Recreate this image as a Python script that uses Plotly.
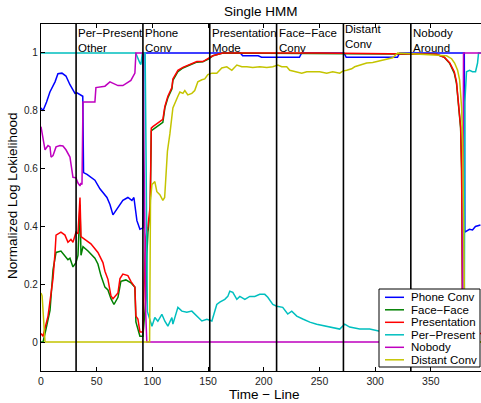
import plotly.graph_objects as go

# ---------------- data ----------------
names = ["Phone Conv", "Face\u2212Face", "Presentation", "Per\u2212Present", "Nobody", "Distant Conv"]
colors = ["#0000ff", "#008000", "#ff0000", "#00bfbf", "#bf00bf", "#c4c400"]

phone_t = [0, 1.8, 5, 8, 12.6, 15.2, 18.8, 22.4, 26, 28.7, 30.5, 32.3, 35, 37.5, 38.2, 41.3, 48.4, 52.9, 59.2, 61.9,
           64.6, 68.2, 73.5, 78, 81.6, 83.4, 86.1, 88.8, 91.5, 92.3, 179, 181, 195, 198, 232, 234, 272, 274, 320, 322,
           380, 380.5, 382, 384.6, 387.4, 390, 394.5]
phone_v = [0.81, 0.80, 0.83, 0.865, 0.90, 0.928, 0.93, 0.92, 0.89, 0.87, 0.86, 0.862, 0.855, 0.85, 0.586, 0.58, 0.56,
           0.53, 0.50, 0.476, 0.44, 0.46, 0.49, 0.50, 0.49, 0.50, 0.42, 0.39, 0.395, 1.0, 1.0, 0.99, 0.99, 0.985,
           0.985, 1.0, 1.0, 0.985, 0.985, 1.0, 1.0, 0.38, 0.383, 0.39, 0.388, 0.40, 0.405]

pres_t = [0, 1.8, 6.3, 10.8, 12.6, 13.5, 17.9, 21.5, 24.2, 26.9, 28.7, 31.4, 33.2, 35, 35.9, 39.5, 44.8, 51.1, 55.6,
          57.4, 60.1, 62.8, 64.6, 69.1, 70.9, 73.5, 78, 80.7, 84.3, 85.2, 87, 88.8, 91.5, 93.3, 94.2, 96, 98, 99,
          100.4, 109.4, 111.2, 113.9, 117.5, 118.4, 122.9, 127.4, 133.6, 139.9, 145.3, 149.8, 154.3, 163.2, 250,
          355, 362, 367, 371, 373, 374, 376.7, 377.6, 378.5, 395]
pres_v = [0.03, 0.02, 0.09, 0.22, 0.31, 0.37, 0.38, 0.37, 0.345, 0.355, 0.345, 0.38, 0.375, 0.50, 0.365, 0.355, 0.34,
          0.31, 0.275, 0.245, 0.217, 0.16, 0.15, 0.17, 0.22, 0.235, 0.23, 0.21, 0.19, 0.09, 0.08, 0.035, 0.035, 0.30,
          0.365, 0.40, 0.47, 0.74, 0.745, 0.77, 0.815, 0.85, 0.88, 0.91, 0.94, 0.95, 0.96, 0.97, 0.97, 0.98, 0.99,
          1.0, 1.0, 0.995, 0.985, 0.965, 0.935, 0.90, 0.85, 0.745, 0.60, 0.03, 0.03]

face_t = [0, 1.8, 4.5, 8.1, 10.8, 13.5, 17.9, 21.5, 24.2, 26, 28.7, 31.4, 33.2, 35, 35.9, 37.7, 42.2, 48.4, 51.1,
          53.8, 57.4, 60.1, 62.8, 65.5, 69.1, 71.7, 76.2, 80.7, 84.3, 85.2, 88.8, 91.5, 94.2, 95, 96, 98, 99, 100.4,
          109.4, 111.2, 113.9, 117.5, 118.4, 122.9, 127.4, 133.6, 139.9, 145.3, 149.8, 154.3, 163.2, 355, 362, 367,
          371, 373, 374, 376.7, 377.6, 378.6, 395]
face_v = [0.0, 0.0, 0.045, 0.11, 0.25, 0.31, 0.315, 0.30, 0.285, 0.29, 0.26, 0.275, 0.30, 0.475, 0.30, 0.33, 0.315,
          0.29, 0.27, 0.23, 0.19, 0.18, 0.15, 0.13, 0.155, 0.21, 0.215, 0.205, 0.19, 0.07, 0.02, 0.02, 0.15, 0.30,
          0.38, 0.45, 0.73, 0.735, 0.76, 0.81, 0.845, 0.875, 0.905, 0.935, 0.948, 0.958, 0.968, 0.969, 0.978, 0.99,
          1.0, 0.995, 0.985, 0.963, 0.93, 0.895, 0.845, 0.74, 0.59, 0.0, 0.0]

perp_t = [0, 85, 88.8, 89.7, 91, 93.5, 95.5, 99.6, 102.2, 104.9, 108.5, 111.2, 113.9, 117.5, 118.4, 122.9, 126.5,
          130.9, 135.4, 139.9, 144.4, 148.9, 153.4, 157.8, 160.5, 165, 167.7, 169.5, 172.2, 175.8, 178.5, 183,
          187.4, 191.9, 196.4, 200.9, 203.6, 208.1, 211.7, 217, 221.5, 225.1, 229.6, 235, 241.3, 247.5, 256.5,
          261.9, 268.2, 272.6, 277.1, 286.1, 295.1, 303.1, 320, 350, 380, 380.5, 382, 384.7, 387.4, 390.1, 391.9,
          392.8, 395]
perp_v = [1.0, 1.0, 0.965, 0.96, 1.0, 1.0, 0.105, 0.055, 0.085, 0.072, 0.096, 0.072, 0.055, 0.085, 0.062, 0.12,
          0.107, 0.103, 0.107, 0.09, 0.073, 0.079, 0.073, 0.13, 0.138, 0.148, 0.158, 0.176, 0.172, 0.148, 0.158,
          0.148, 0.158, 0.158, 0.165, 0.165, 0.155, 0.13, 0.124, 0.12, 0.097, 0.107, 0.09, 0.08, 0.069, 0.062, 0.055,
          0.052, 0.045, 0.062, 0.052, 0.045, 0.045, 0.038, 0.035, 0.033, 0.03, 0.83, 0.935, 0.94, 0.935, 0.935,
          0.965, 1.0, 1.0]

nobody_t = [0, 1.8, 3.6, 6.3, 8.1, 9, 10.8, 13.5, 17, 19.7, 22.4, 26, 28.7, 31.4, 33.2, 35, 35.9, 36.8, 37.7, 39.5,
            48.4, 49.3, 57.4, 61.9, 66.4, 69.1, 73.5, 78, 80.7, 84.3, 85.2, 89.7, 91.5, 94, 95, 378.5, 379.3, 395]
nobody_v = [0.745, 0.70, 0.665, 0.68, 0.675, 0.64, 0.645, 0.675, 0.68, 0.678, 0.665, 0.64, 0.57, 0.568, 0.55, 0.54,
            0.55, 0.545, 0.83, 0.83, 0.83, 0.88, 0.885, 0.90, 0.893, 0.887, 0.887, 0.90, 0.905, 0.93, 1.0, 1.0, 1.0,
            0.1, 0.0, 0.0, 1.0, 1.0]

dist_t = [0, 1, 3.6, 97.5, 98.3, 99.6, 102.2, 104, 106.7, 109.4, 111, 112, 113.5, 115.7, 117.5, 118.4, 122.9, 124.7,
          127.4, 129.1, 131.8, 135.4, 138, 140.8, 144.4, 147, 149.8, 153.4, 157.8, 162.3, 166.8, 171.3, 175.8,
          180.3, 184.8, 190.1, 196.4, 202.7, 208.1, 212.6, 216.1, 220.6, 223.3, 227.8, 234.1, 238.6, 243.9, 250.2,
          256.5, 261.9, 268.2, 270.9, 274.4, 278.9, 281.6, 286.1, 292.4, 297.8, 306.7, 315.7, 320.2, 364.1, 368.6,
          371.3, 374, 375.8, 377.6, 378.5, 380.3, 381.2, 395]
dist_v = [0.17, 0.16, 0.0, 0.0, 0.49, 0.545, 0.555, 0.52, 0.51, 0.49, 0.50, 0.57, 0.66, 0.72, 0.77, 0.81, 0.85, 0.865,
          0.86, 0.87, 0.855, 0.86, 0.87, 0.90, 0.907, 0.91, 0.925, 0.93, 0.93, 0.948, 0.952, 0.94, 0.958, 0.952,
          0.952, 0.95, 0.952, 0.95, 0.952, 0.958, 0.952, 0.952, 0.94, 0.935, 0.93, 0.935, 0.935, 0.935, 0.93, 0.935,
          0.93, 0.937, 0.94, 0.945, 0.952, 0.958, 0.965, 0.967, 0.975, 0.983, 1.0, 0.99, 0.98, 0.965, 0.94, 0.907,
          0.81, 0.70, 0.10, 0.0, 0.0]

series_t = [phone_t, face_t, pres_t, perp_t, nobody_t, dist_t]
series_v = [phone_v, face_v, pres_v, perp_v, nobody_v, dist_v]

boundaries = [31.5, 91.5, 151.5, 211.5, 271.5, 332]
region_labels = ["Per\u2212Present<br>Other", "Phone<br>Conv", "Presentation<br>Mode",
                 "Face\u2212Face<br>Conv", "Distant<br>Conv", "Nobody<br>Around"]
label_yshift = [-1, -1, -1, -1, 3, -1]

x_ticks = [0, 50, 100, 150, 200, 250, 300, 350]
y_ticks = [0, 0.2, 0.4, 0.6, 0.8, 1]
y_tick_text = ["0", "0.2", "0.4", "0.6", "0.8", "1"]

title_text = "Single HMM"
x_title = "Time \u2212 Line"
y_title = "Normalized Log Lokielihood"

FONT = "Liberation Sans, Arial, Helvetica, sans-serif"

fig = go.Figure()
for t, v, n, c in zip(series_t, series_v, names, colors):
    fig.add_trace(go.Scatter(x=t, y=v, mode="lines", name=n, line=dict(color=c, width=1.5), showlegend=False))

shapes = []
for b in boundaries:
    shapes.append(dict(type="line", xref="x", yref="y", x0=b, x1=b, y0=-0.1, y1=1.1,
                       line=dict(color="black", width=1.6), layer="above"))

# pixel -> paper helpers (plot area: left 41, top 24, 440 x 347)
W, H, L, T = 440.0, 347.0, 41.0, 24.0
def px_x(p):
    return (p - L) / W
def px_y(p):
    return (T + H - p) / H

# legend box
shapes.append(dict(type="rect", xref="paper", yref="paper", x0=px_x(379), x1=px_x(480), y0=px_y(367), y1=px_y(289),
                   fillcolor="white", line=dict(color="black", width=1), layer="above"))
annotations = []
row0, step = 297.3, 12.5
for i, (n, c) in enumerate(zip(names, colors)):
    yy = px_y(row0 + i * step)
    shapes.append(dict(type="line", xref="paper", yref="paper", x0=px_x(385), x1=px_x(404), y0=yy, y1=yy,
                       line=dict(color=c, width=1.5), layer="above"))
    annotations.append(dict(xref="paper", yref="paper", x=px_x(409), y=yy, text=n, showarrow=False,
                            xanchor="left", yanchor="middle", font=dict(family=FONT, size=11.5, color="black")))

for b, lab, ys in zip(boundaries, region_labels, label_yshift):
    annotations.append(dict(xref="x", yref="y", x=b, y=1.1, text=lab, showarrow=False, align="left",
                            xanchor="left", yanchor="top", xshift=0, yshift=ys,
                            font=dict(family=FONT, size=11.5, color="black")))

# titles
annotations.append(dict(xref="paper", yref="paper", x=px_x(261), y=px_y(11), text=title_text, showarrow=False,
                        xanchor="center", yanchor="middle", font=dict(family=FONT, size=13.5, color="black")))
annotations.append(dict(xref="paper", yref="paper", x=px_x(264), y=px_y(394), text=x_title, showarrow=False,
                        xanchor="center", yanchor="middle", font=dict(family=FONT, size=13.5, color="black")))
annotations.append(dict(xref="paper", yref="paper", x=px_x(12), y=px_y(196), text=y_title, showarrow=False,
                        textangle=-90, xanchor="center", yanchor="middle",
                        font=dict(family=FONT, size=13.5, color="black")))

fig.update_layout(
    width=481, height=403,
    margin=dict(l=41, r=0, t=24, b=32, autoexpand=False),
    paper_bgcolor="white", plot_bgcolor="white",
    font=dict(family=FONT, color="black"),
    shapes=shapes, annotations=annotations,
    xaxis=dict(range=[0, 395], tickvals=x_ticks, ticks="inside", ticklen=4, tickcolor="black",
               showline=True, linecolor="black", linewidth=1.3, mirror="ticks", showgrid=False, zeroline=False,
               automargin=False, tickfont=dict(family=FONT, size=10.5, color="#222")),
    yaxis=dict(range=[-0.1, 1.1], tickvals=y_ticks, ticktext=y_tick_text, ticks="inside", ticklen=4,
               tickcolor="black", showline=True, linecolor="black", linewidth=1.3, showgrid=False, zeroline=False,
               automargin=False, tickfont=dict(family=FONT, size=10, color="#222")),
)

fig.write_html("out.html", config={"displayModeBar": False},
               post_script="document.body.style.margin='0';document.body.style.padding='0';"
                           "document.body.style.overflow='hidden';")
